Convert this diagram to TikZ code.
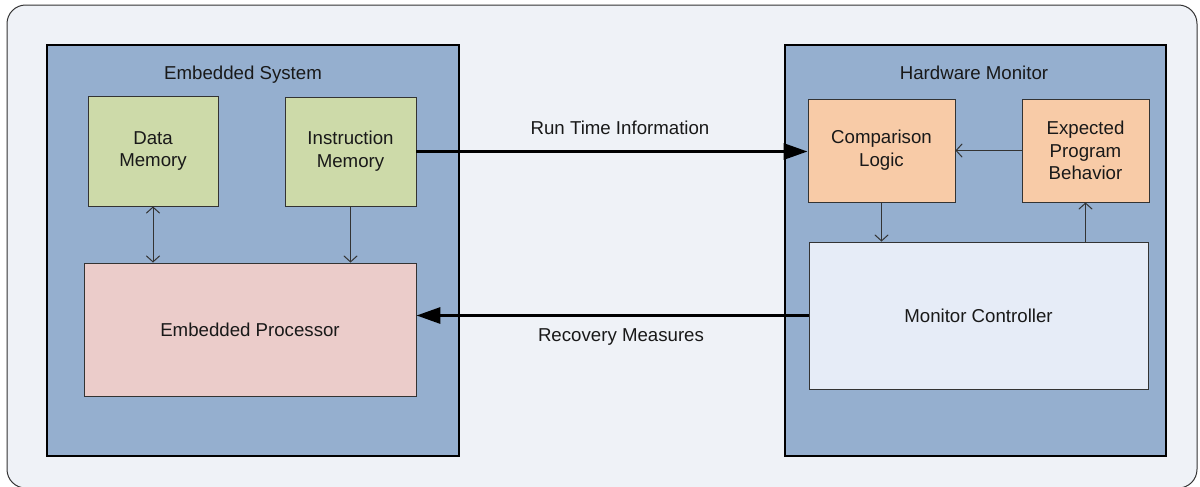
\documentclass[tikz,border=0pt]{standalone}
\usepackage{fontspec}
\setmainfont{Liberation Sans}
\usepackage{xcolor}
\usetikzlibrary{arrows.meta}

\definecolor{pagefill}{HTML}{EFF2F7}
\definecolor{groupblue}{HTML}{95AFCF}
\definecolor{memgreen}{HTML}{CDDAA9}
\definecolor{procpink}{HTML}{EBCCCA}
\definecolor{logicorange}{HTML}{F8CBA7}
\definecolor{ctrllight}{HTML}{E6ECF7}
\definecolor{edgegray}{HTML}{333333}

\begin{document}
\begin{tikzpicture}[x=0.75pt,y=-0.75pt,
    every node/.style={font=\fontsize{14}{17}\selectfont, text=black!90},
    groupbox/.style={draw=black, line width=1.7pt, fill=groupblue, inner sep=0pt},
    unitbox/.style={draw=edgegray, line width=0.7pt, inner sep=0pt, align=center},
    thinarrow/.style={draw=edgegray, line width=0.75pt, -{Straight Barb[length=4.5pt,width=10pt]}},
    thinboth/.style={draw=edgegray, line width=0.75pt, {Straight Barb[length=4.5pt,width=10pt]}-{Straight Barb[length=4.5pt,width=10pt]}},
    thickarrow/.style={draw=black, line width=2.4pt, -{Triangle[length=18pt,width=12pt]}}]

    \useasboundingbox (0,0) rectangle (1200,486);

    % Draw the background panel
    \draw[draw=edgegray, line width=0.75pt, fill=pagefill, rounded corners=14pt] (7,5) rectangle (1197,488);

    % Draw the two groups
    \node[groupbox, minimum width=309pt, minimum height=308.25pt] (embsys) at (253,250.5) {};
    \node[groupbox, minimum width=285.75pt, minimum height=308.25pt] (hwmon) at (975.5,250.5) {};
    \node[anchor=base] (embsyslbl) at (243,79) {Embedded System};
    \node[anchor=base] (hwmonlbl) at (974,79) {Hardware Monitor};

    % Draw the blocks of the embedded system
    \node[unitbox, fill=memgreen, minimum width=97.5pt, minimum height=82.5pt] (datamem) at (153,151) {Data\\Memory};
    \node[unitbox, fill=memgreen, minimum width=98.25pt, minimum height=81.75pt] (instrmem) at (350.5,151.5) {Instruction\\Memory};
    \node[unitbox, fill=procpink, minimum width=249pt, minimum height=99.75pt] (proc) at (250,329.5) {Embedded Processor};

    % Draw the blocks of the hardware monitor
    \node[unitbox, fill=logicorange, minimum width=110.25pt, minimum height=77.25pt] (complogic) at (881.5,150.5) {Comparison\\Logic};
    \node[unitbox, fill=logicorange, minimum width=95.25pt, minimum height=77.25pt] (expbehav) at (1085.5,150.5) {Expected\\Program\\Behavior};
    \node[unitbox, fill=ctrllight, minimum width=254.25pt, minimum height=110.25pt] (monctrl) at (978.5,315.5) {Monitor Controller};

    % Draw the links inside the groups
    \draw[thinboth] (datamem.south) -- (datamem.south |- proc.north);
    \draw[thinarrow] (instrmem.south) -- (instrmem.south |- proc.north);
    \draw[thinarrow] (expbehav.west) -- (complogic.east);
    \draw[thinarrow] (complogic.south) -- (complogic.south |- monctrl.north);
    \draw[thinarrow] (monctrl.north -| expbehav.south) -- (expbehav.south);

    % Draw the links between the groups
    \draw[thickarrow] (instrmem.east) -- (instrmem.east -| complogic.west);
    \node (runtimelbl) at (620,128) {Run Time Information};
    \draw[thickarrow] (monctrl.west) -- (monctrl.west -| proc.east);
    \node (recoverylbl) at (621,337) {Recovery Measures};

\end{tikzpicture}
\end{document}
